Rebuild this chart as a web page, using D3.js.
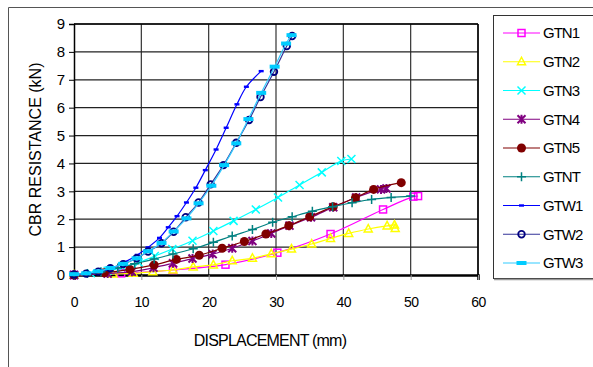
<!DOCTYPE html>
<html>
<head>
<meta charset="utf-8">
<script src="https://cdn.jsdelivr.net/npm/d3@7"></script>
<style>
  body { margin: 0; background: #fff; }
  svg { display: block; font-family: "Liberation Sans", Arial, sans-serif; }
</style>
</head>
<body>
<div id="chart"></div>
<script>
// series data: [displacement mm, CBR resistance kN]
const gtn1 = [[0,0],[7,0.06],[14.7,0.18],[22.5,0.37],[30.2,0.8],[38.1,1.47],[45.9,2.35],[50.4,2.81],[51.1,2.83]];
const gtn2 = [[0,0],[5.8,0.04],[8.8,0.06],[11.7,0.12],[14.7,0.18],[17.7,0.29],[20.7,0.36],[23.5,0.51],[26.5,0.6],[29.3,0.76],[32.3,0.93],[35.3,1.11],[38.1,1.31],[40.8,1.49],[43.7,1.65],[46.5,1.76],[47.6,1.79],[47.7,1.67]];
const gtn3 = [[0,0],[2.5,0.06],[5,0.15],[7.2,0.28],[9.6,0.45],[12,0.68],[14.6,0.93],[17.6,1.23],[20.7,1.58],[23.7,1.94],[27,2.35],[30.3,2.78],[33.5,3.23],[36.8,3.68],[39.7,4.09],[41.2,4.16]];
const gtn4 = [[0,0],[5,0.05],[8.6,0.12],[11.8,0.26],[14.7,0.42],[17.6,0.59],[20.6,0.75],[23.5,0.96],[26.5,1.22],[29.3,1.49],[32,1.77],[35.2,2.07],[38.5,2.43],[41.9,2.78],[45.6,3.07],[46.4,3.1]];
const gtn5 = [[0,0],[4.5,0.08],[8.3,0.2],[11.9,0.36],[15.2,0.56],[18.6,0.71],[22,0.96],[25.3,1.2],[28.5,1.47],[31.9,1.77],[35,2.09],[38.5,2.45],[41.8,2.77],[44.5,3.07],[48.6,3.31]];
const gtnt = [[0,0],[2,0.05],[4,0.12],[6.5,0.25],[9,0.4],[11.9,0.57],[14.7,0.75],[17.7,0.94],[20.7,1.17],[23.5,1.4],[26.5,1.63],[29.5,1.89],[32.4,2.09],[35.4,2.29],[38.4,2.45],[41.3,2.59],[44.2,2.71],[47.1,2.78],[50,2.83]];
const gtw1 = [[0,0.01],[1.8,0.05],[3.7,0.12],[5.6,0.24],[7.6,0.47],[9.4,0.72],[11,0.99],[12.7,1.33],[14,1.71],[15.3,2.11],[16.7,2.6],[18.1,3.13],[19.5,3.76],[21.1,4.5],[22.6,5.28],[24.2,6.12],[25.6,6.75],[27.8,7.31]];
const gtw2 = [[0,0.02],[1.8,0.05],[3.6,0.12],[5.4,0.24],[7.3,0.39],[9.3,0.6],[11,0.84],[13,1.14],[14.8,1.55],[16.6,2.07],[18.5,2.6],[20.3,3.25],[22.2,3.94],[24.1,4.74],[26,5.56],[27.7,6.38],[29.7,7.29],[31.6,8.21],[32.4,8.57]];
const gtw3 = [[0,0.03],[1.8,0.06],[3.6,0.13],[5.4,0.25],[7.3,0.4],[9.3,0.6],[11,0.85],[13,1.15],[14.8,1.56],[16.7,2.03],[18.5,2.57],[20.4,3.2],[22.3,3.94],[24.1,4.72],[25.9,5.59],[27.8,6.53],[29.8,7.47],[31.5,8.3],[32.3,8.6]];

const seriesNames = ['GTN1','GTN2','GTN3','GTN4','GTN5','GTNT','GTW1','GTW2','GTW3'];
const seriesData = [gtn1, gtn2, gtn3, gtn4, gtn5, gtnt, gtw1, gtw2, gtw3];
const xTicks = [0,10,20,30,40,50,60];
const yTicks = [0,1,2,3,4,5,6,7,8,9];

const styles = {
  GTN1: { line: '#ff00ff', marker: 'square', color: '#ff00ff' },
  GTN2: { line: '#ffff00', marker: 'triangle', color: '#ffff00' },
  GTN3: { line: '#00ffff', marker: 'x', color: '#00ffff' },
  GTN4: { line: '#800080', marker: 'star', color: '#800080' },
  GTN5: { line: '#800000', marker: 'dot', color: '#800000' },
  GTNT: { line: '#008080', marker: 'plus', color: '#008080' },
  GTW1: { line: '#0000ff', marker: 'dash', color: '#0000ff' },
  GTW2: { line: '#333399', marker: 'circle', color: '#000080' },
  GTW3: { line: '#33ccff', marker: 'bar', color: '#00ccff' }
};

const W = 593, H = 367;
const plot = { left: 74, right: 478, top: 24, bottom: 275 };

const svg = d3.select('#chart').append('svg').attr('width', W).attr('height', H);

// outer frame (top and left edges visible)
svg.append('line').attr('x1', 8.5).attr('x2', W).attr('y1', 7.5).attr('y2', 7.5).attr('stroke', '#555').attr('stroke-width', 1);
svg.append('line').attr('x1', 8.5).attr('x2', 8.5).attr('y1', 7.5).attr('y2', H).attr('stroke', '#555').attr('stroke-width', 1);

const x = d3.scaleLinear().domain([0, 60]).range([plot.left, plot.right]);
const y = d3.scaleLinear().domain([0, 9]).range([plot.bottom, plot.top]);

// grid
const grid = svg.append('g');
grid.selectAll('.vg').data(xTicks.slice(1)).enter().append('line')
  .attr('x1', d => x(d)).attr('x2', d => x(d))
  .attr('y1', plot.top).attr('y2', plot.bottom)
  .attr('stroke', '#333').attr('stroke-width', 1.2);
grid.selectAll('.hg').data(yTicks.slice(1)).enter().append('line')
  .attr('x1', plot.left).attr('x2', plot.right)
  .attr('y1', d => y(d)).attr('y2', d => y(d))
  .attr('stroke', '#222').attr('stroke-width', 1.2);

// axes
const xAxis = svg.append('g')
  .attr('transform', 'translate(0,' + plot.bottom + ')')
  .call(d3.axisBottom(x).tickValues(xTicks).tickSize(5).tickPadding(17));
xAxis.select('.domain').attr('stroke', '#000').attr('stroke-width', 2.5);
xAxis.selectAll('.tick line').attr('stroke', '#999');
xAxis.selectAll('text').style('font-size', '14px').style('letter-spacing', '-0.5px').attr('fill', '#000');

const yAxis = svg.append('g')
  .attr('transform', 'translate(' + plot.left + ',0)')
  .call(d3.axisLeft(y).tickValues(yTicks).tickSize(5).tickPadding(4));
yAxis.select('.domain').attr('stroke', '#000').attr('stroke-width', 1.5);
yAxis.selectAll('.tick line').attr('stroke', '#000');
yAxis.selectAll('text').style('font-size', '15px').attr('fill', '#000');

// axis titles
svg.append('text')
  .attr('transform', 'translate(41,' + ((plot.top + plot.bottom) / 2) + ') rotate(-90)')
  .attr('text-anchor', 'middle')
  .style('font-size', '16px')
  .text('CBR RESISTANCE (kN)');
svg.append('text')
  .attr('x', 270).attr('y', 346)
  .attr('text-anchor', 'middle')
  .style('font-size', '16px')
  .style('letter-spacing', '-0.8px')
  .text('DISPLACEMENT (mm)');

const line = d3.line()
  .x(d => x(d[0]))
  .y(d => y(d[1]))
  .curve(d3.curveCatmullRom.alpha(0.5));

function drawMarker(g, type, color, cx, cy) {
  switch (type) {
    case 'square':
      g.append('rect').attr('x', cx - 3.5).attr('y', cy - 3.5).attr('width', 7).attr('height', 7)
        .attr('fill', 'none').attr('stroke', color).attr('stroke-width', 1.5);
      break;
    case 'triangle':
      g.append('path').attr('d', `M${cx},${cy - 4.5}L${cx + 4},${cy + 3}L${cx - 4},${cy + 3}Z`)
        .attr('fill', 'none').attr('stroke', color).attr('stroke-width', 1.5);
      break;
    case 'x':
      g.append('path').attr('d', `M${cx - 4},${cy - 4}L${cx + 4},${cy + 4}M${cx - 4},${cy + 4}L${cx + 4},${cy - 4}`)
        .attr('stroke', color).attr('stroke-width', 1.5);
      break;
    case 'star':
      g.append('path').attr('d', `M${cx - 4},${cy - 4}L${cx + 4},${cy + 4}M${cx - 4},${cy + 4}L${cx + 4},${cy - 4}M${cx},${cy - 4.5}L${cx},${cy + 4.5}`)
        .attr('stroke', color).attr('stroke-width', 2);
      break;
    case 'dot':
      g.append('circle').attr('cx', cx).attr('cy', cy).attr('r', 4.5).attr('fill', color);
      break;
    case 'plus':
      g.append('path').attr('d', `M${cx - 4.5},${cy}L${cx + 4.5},${cy}M${cx},${cy - 4.5}L${cx},${cy + 4.5}`)
        .attr('stroke', color).attr('stroke-width', 1.5);
      break;
    case 'dash':
      g.append('rect').attr('x', cx - 2.5).attr('y', cy - 1.2).attr('width', 5).attr('height', 2.4).attr('fill', color);
      break;
    case 'circle':
      g.append('circle').attr('cx', cx).attr('cy', cy).attr('r', 3.3)
        .attr('fill', 'none').attr('stroke', color).attr('stroke-width', 1.8);
      break;
    case 'bar':
      g.append('rect').attr('x', cx - 5).attr('y', cy - 2).attr('width', 10).attr('height', 4).attr('fill', color);
      break;
  }
}

// series lines and markers
seriesNames.forEach((name, i) => {
  const st = styles[name];
  const g = svg.append('g');
  g.append('path').datum(seriesData[i]).attr('d', line)
    .attr('fill', 'none').attr('stroke', st.line).attr('stroke-width', 1.2);
  seriesData[i].forEach(d => drawMarker(g, st.marker, st.color, x(d[0]), y(d[1])));
});

// plot border on top and right
svg.append('line').attr('x1', plot.left).attr('x2', plot.right).attr('y1', plot.top).attr('y2', plot.top).attr('stroke', '#000').attr('stroke-width', 1.5);
svg.append('line').attr('x1', plot.right).attr('x2', plot.right).attr('y1', plot.top).attr('y2', plot.bottom).attr('stroke', '#000').attr('stroke-width', 1.5);

// legend
const legend = svg.append('g');
legend.append('rect').attr('x', 493.5).attr('y', 15.5).attr('width', 120).attr('height', 263)
  .attr('fill', '#fff').attr('stroke', '#333').attr('stroke-width', 1);
legend.append('line').attr('x1', 494).attr('x2', W).attr('y1', 279.5).attr('y2', 279.5).attr('stroke', '#999').attr('stroke-width', 1.5);
seriesNames.forEach((name, i) => {
  const st = styles[name];
  const ly = 33 + i * 28.75;
  const g = legend.append('g');
  g.append('line').attr('x1', 503).attr('x2', 540).attr('y1', ly).attr('y2', ly)
    .attr('stroke', st.line).attr('stroke-width', 1.2);
  drawMarker(g, st.marker, st.color, 521.5, ly);
  g.append('text').attr('x', 543).attr('y', ly).attr('dy', '0.36em')
    .style('font-size', '15px').style('letter-spacing', '-1px')
    .text(name);
});
</script>
</body>
</html>
